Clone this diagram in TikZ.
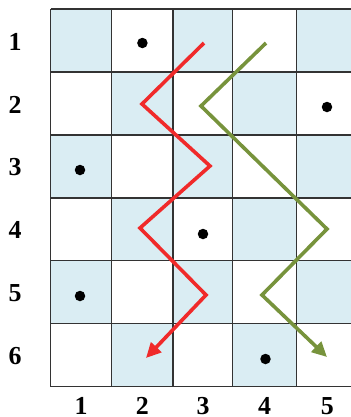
\documentclass[tikz,border=0pt]{standalone}
\usepackage{fontspec}
\setmainfont{Liberation Serif}
\usetikzlibrary{arrows.meta}
\definecolor{cellblue}{HTML}{DAEDF3}
\definecolor{gridgray}{HTML}{333333}
\definecolor{pathred}{HTML}{F02A2A}
\definecolor{pathgreen}{HTML}{77933C}
\tikzset{
  gridline/.style={draw=gridgray, line width=1.3bp},
  bluecell/.style={fill=cellblue},
  dotmark/.style={circle, fill=black, inner sep=0pt, minimum size=10.5bp},
  axislabel/.style={font=\fontsize{26}{28}\selectfont\bfseries, inner sep=0pt},
  zigzag/.style={line width=3.6bp, line join=miter,
    -{Triangle[length=15bp,width=14bp]}},
}
\begin{document}
\begin{tikzpicture}[x=1bp,y=-1bp]
\useasboundingbox (0,0) rectangle (351,417);
\clip (0,0) rectangle (351,417);
% blue cells (checkerboard)
\foreach \c/\xa/\xb in {1/50.5/111.8, 2/111.8/173, 3/173/232.8, 4/232.8/296.7, 5/296.7/358}{
  \foreach \r in {1,...,6}{
    \pgfmathtruncatemacro{\parity}{mod(\r+\c,2)}
    \ifnum\parity=0
      \pgfmathsetmacro{\ya}{9+62.95*(\r-1)}
      \pgfmathsetmacro{\yb}{9+62.95*\r}
      \fill[bluecell] (\xa,\ya) rectangle (\xb,\yb);
    \fi
  }
}
% grid lines
\foreach \r in {0,...,6}{
  \pgfmathsetmacro{\yy}{9+62.95*\r}
  \draw[gridline] (50.5,\yy) -- (358,\yy);
}
\foreach \xx in {50.5,111.8,173,232.8,296.7,358}{
  \draw[gridline] (\xx,9) -- (\xx,386.7);
}
% row labels
\foreach \r in {1,...,6}{
  \pgfmathsetmacro{\yy}{9+62.95*(\r-0.5)+1}
  \node[axislabel] (row\r) at (15,\yy) {\r};
}
% column labels
\foreach \c/\xx in {1/81, 2/142.4, 3/203, 4/264.7, 5/327.3}{
  \node[axislabel] (col\c) at (\xx,406) {\c};
}
% dots
\node[dotmark] (d1) at (142.4,43) {};
\node[dotmark] (d2) at (327,107) {};
\node[dotmark] (d3) at (80,170) {};
\node[dotmark] (d4) at (203,234) {};
\node[dotmark] (d5) at (80,296) {};
\node[dotmark] (d6) at (265.5,359) {};
% red path
\coordinate (r0) at (204,43);
\coordinate (r1) at (142,104);
\coordinate (r2) at (210,166);
\coordinate (r3) at (140,228);
\coordinate (r4) at (206,295);
\coordinate (r5) at (146,358);
\draw[zigzag, draw=pathred] (r0) -- (r1) -- (r2) -- (r3) -- (r4) -- (r5);
% green path
\coordinate (g0) at (266,43);
\coordinate (g1) at (201,106);
\coordinate (g2) at (327,229);
\coordinate (g3) at (262,295);
\coordinate (g4) at (327,357);
\draw[zigzag, draw=pathgreen] (g0) -- (g1) -- (g2) -- (g3) -- (g4);
\end{tikzpicture}
\end{document}
